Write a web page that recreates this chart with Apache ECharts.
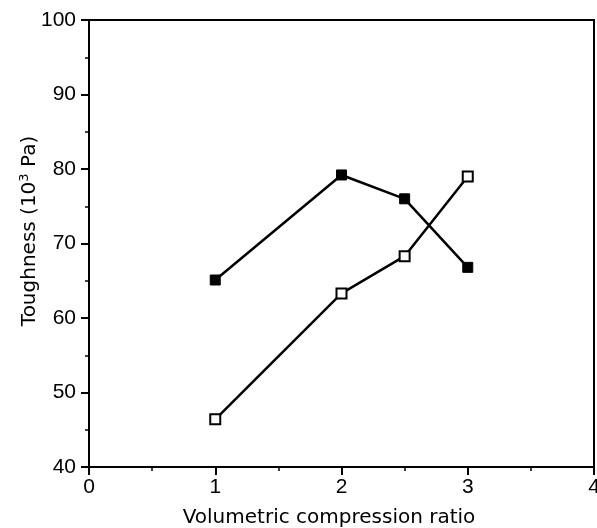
<!DOCTYPE html>
<html><head><meta charset="utf-8">
<script src="https://cdn.jsdelivr.net/npm/echarts@6/dist/echarts.min.js"></script>
<style>html,body{margin:0;padding:0;background:#fff}#c{width:597px;height:528px}</style>
</head><body><div id="c"></div>
<script>
const ratio = [1, 2, 2.5, 3];
const filledValues = [65.1, 79.2, 76.0, 66.8];
const openValues = [46.4, 63.3, 68.3, 79.0];
const xTicks = [0, 1, 2, 3, 4];
const yTicks = [40, 50, 60, 70, 80, 90, 100];

const chart = echarts.init(document.getElementById('c'));
const font = 'DejaVu Sans';
const tickFont = 'Liberation Sans';
chart.setOption({
  animation: false,
  backgroundColor: '#fff',
  grid: { left: 89, right: 3, top: 20, bottom: 61, show: true, borderColor: '#000', borderWidth: 2,
          containLabel: false, outerBoundsMode: 'none' },
  xAxis: {
    type: 'value', min: xTicks[0], max: xTicks[xTicks.length-1], interval: 1,
    name: 'Volumetric compression ratio', nameLocation: 'middle', nameGap: 41,
    nameTextStyle: { fontFamily: font, fontSize: 20, color: '#000', padding: [0, 25, 0, 0] },
    axisLine: { lineStyle: { color: '#000', width: 2 } },
    axisTick: { inside: false, length: 8, lineStyle: { color: '#000', width: 2 } },
    minorTick: { show: true, splitNumber: 2, length: 4, lineStyle: { color: '#000', width: 1.5 } },
    axisLabel: { fontFamily: tickFont, fontSize: 21, color: '#000', margin: 10 },
    splitLine: { show: false }
  },
  yAxis: {
    type: 'value', min: yTicks[0], max: yTicks[yTicks.length-1], interval: 10,
    name: 'Toughness (10{sup|3} Pa)', nameLocation: 'middle', nameGap: 48, nameRotate: 90,
    nameMoveOverlap: false,
    nameTextStyle: { fontFamily: font, fontSize: 20, color: '#000', padding: [0, 0, 0, 25],
      rich: { sup: { fontFamily: font, fontSize: 13, color: '#000', verticalAlign: 'top', padding: [0,0,10,0] } } },
    axisLine: { lineStyle: { color: '#000', width: 2 } },
    axisTick: { inside: false, length: 8, lineStyle: { color: '#000', width: 2 } },
    minorTick: { show: true, splitNumber: 2, length: 4, lineStyle: { color: '#000', width: 1.5 } },
    axisLabel: { fontFamily: tickFont, fontSize: 21, color: '#000', margin: 13 },
    splitLine: { show: false }
  },
  series: [
    { type: 'line', data: ratio.map((x,i)=>[x, filledValues[i]]), symbol: 'rect', symbolSize: 10,
      lineStyle: { color: '#000', width: 2.5 }, itemStyle: { color: '#000', borderColor: '#000', borderWidth: 1 } },
    { type: 'line', data: ratio.map((x,i)=>[x, openValues[i]]), symbol: 'rect', symbolSize: 10,
      lineStyle: { color: '#000', width: 2.5 }, itemStyle: { color: '#fff', borderColor: '#000', borderWidth: 2 } }
  ]
});
</script></body></html>
